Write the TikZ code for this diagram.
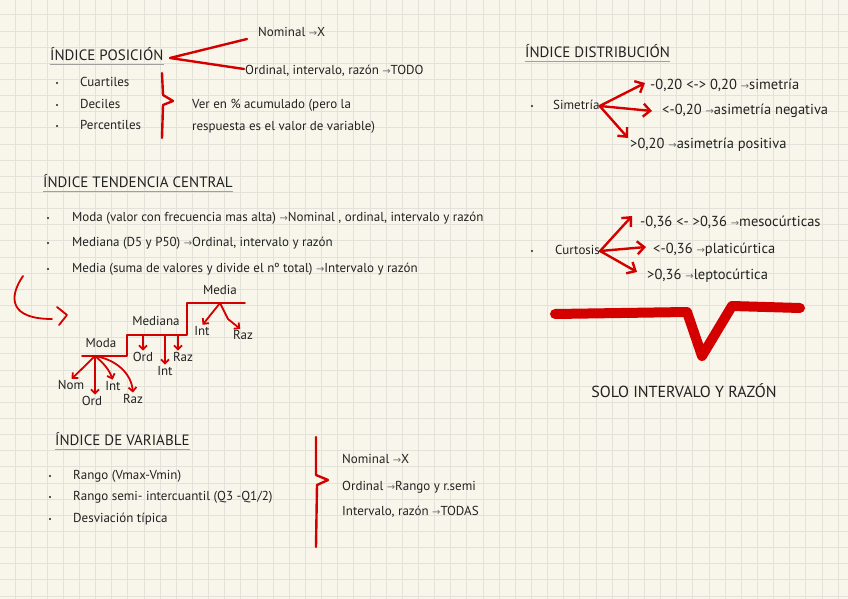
\documentclass[tikz,border=0pt]{standalone}
\usepackage{fontspec}
\setmainfont{PT Sans}
\newfontfamily\arrfont{DejaVu Sans}
\usetikzlibrary{arrows.meta,positioning}

\definecolor{paper}{RGB}{248,246,234}
\definecolor{gridgray}{RGB}{226,226,218}
\definecolor{ink}{RGB}{34,34,34}
\definecolor{penred}{RGB}{212,0,0}
\definecolor{arrowgray}{RGB}{110,110,110}

\newcommand{\flecha}{{\arrfont\fontsize{10}{10}\selectfont\color{arrowgray}→}}

\tikzset{
  txt/.style={anchor=west, inner sep=0pt, text=ink, font=\fontsize{13}{13}\selectfont,
    text height=9.5pt, text depth=3pt},
  numtxt/.style={txt, font=\fontsize{14.5}{14.5}\selectfont},
  title/.style={txt, font=\fontsize{15}{15}\selectfont},
  lbl/.style={txt, anchor=center},
  uline/.style={draw=gray!75, line width=0.9pt},
  redline/.style={draw=penred, line width=2.4pt, line cap=round, line join=round},
  thinred/.style={draw=penred, line width=1.8pt, line cap=round, line join=round},
  redarrow/.style={redline, -{Straight Barb[length=7pt,width=13pt]}},
  stairarrow/.style={thinred, shorten >=1pt, -{Straight Barb[length=4pt,width=8pt]}},
  bigred/.style={draw=penred, line width=10pt, line cap=round, line join=round}
}

\begin{document}
\begin{tikzpicture}[x=1pt, y=-1pt]

% Paper
\fill[paper] (0,0) rectangle (848,599);
\useasboundingbox (0,0) rectangle (848,599);
\foreach \i in {0,...,51}
  \draw[gridgray, line width=1pt] (15+\i*16.14,0) -- (15+\i*16.14,599);
\foreach \j in {0,...,36}
  \draw[gridgray, line width=1pt] (0,15+\j*16.14) -- (848,15+\j*16.14);

% Indice posicion
\node[title] (pos) at (50,57) {ÍNDICE POSICIÓN};
\draw[uline] ([yshift=-1pt]pos.south west) -- ([yshift=-1pt]pos.south east);
\node[txt] (nom1) at (258,33) {Nominal \flecha X};
\node[txt] (ord1) at (245,71) {Ordinal, intervalo, razón \flecha TODO};
\coordinate (posv) at (170,58);
\draw[redline] ([xshift=-11pt,yshift=-6pt]nom1.west) -- (posv) -- ([xshift=-1pt,yshift=2pt]ord1.west);

\foreach \y/\t/\n in {83/Cuartiles/cua, 105/Deciles/dec, 126/Percentiles/per}{
  \fill[ink] (57,\y) circle (1.2);
  \node[txt] (\n) at (80,\y) {\t};
}
\draw[redline] (162,73) -- (163,95) -- (173,101) -- (163,105) -- (162,138);
\node[txt] (ver1) at (192,105) {Ver en \% acumulado (pero la};
\node[txt] (ver2) at (192,127) {respuesta es el valor de variable)};

% Indice distribucion
\node[title] (dist) at (525,54) {ÍNDICE DISTRIBUCIÓN};
\draw[uline] ([yshift=-1pt]dist.south west) -- ([yshift=-1pt]dist.south east);
\fill[ink] (532,106) circle (1.2);
\node[txt] (sim) at (553,106) {Simetría};
\node[numtxt] (sim1) at (650,86) {-0,20 <-> 0,20 \flecha simetría};
\node[numtxt] (sim2) at (662,111) {<-0,20 \flecha asimetría negativa};
\node[numtxt] (sim3) at (630,145) {>0,20 \flecha asimetría positiva};
\coordinate (simA) at (645,83);
\coordinate (simB) at (652,111);
\coordinate (simC) at (628,138);
\draw[redarrow] (sim.east) -- (simA);
\draw[redarrow] (sim.east) -- (simB);
\draw[redarrow] (sim.east) -- (simC);

% Curtosis
\fill[ink] (532,251) circle (1.2);
\node[txt] (cur) at (555,251) {Curtosis};
\node[numtxt] (cur1) at (640,223) {-0,36 <- >0,36 \flecha mesocúrticas};
\node[numtxt] (cur2) at (653,250) {<-0,36 \flecha platicúrtica};
\node[numtxt] (cur3) at (647,276) {>0,36 \flecha leptocúrtica};
\coordinate (curA) at (632,216);
\coordinate (curB) at (646,247);
\coordinate (curC) at (637,272);
\draw[redarrow] (cur.east) -- (curA);
\draw[redarrow] (cur.east) -- (curB);
\draw[redarrow] (cur.east) -- (curC);

% Solo intervalo y razon
\draw[bigred] (555,314) -- (687,312) -- (702,356) -- (732,306) -- (800,308);
\node[title, anchor=center, font=\fontsize{16}{16}\selectfont] (solo) at (684,394) {SOLO INTERVALO Y RAZÓN};

% Indice tendencia central
\node[title] (ten) at (43,184) {ÍNDICE TENDENCIA CENTRAL};
\draw[uline] ([yshift=-1pt]ten.south west) -- ([yshift=-1pt]ten.south east);
\foreach \y/\t/\n in {218/{Moda (valor con frecuencia mas alta) \flecha Nominal , ordinal, intervalo y razón}/mod,
                      243/{Mediana (D5 y P50) \flecha Ordinal, intervalo y razón}/med,
                      269/{Media (suma de valores y divide el nº total) \flecha Intervalo y razón}/mea}{
  \fill[ink] (48,\y) circle (1.2);
  \node[txt] (\n) at (72,\y) {\t};
}

% curved pointer
\draw[thinred] (23,276) .. controls (8,298) and (10,319) .. (52,319);
\draw[thinred] (57,307) -- (67,315) -- (59,325);

% Staircase
\draw[thinred] (82,356) -- (127,356) -- (127,335) -- (187,335) -- (187,303) -- (245,303);
\node[lbl] (moda) at (101,344) {Moda};
\node[lbl] (mediana) at (156,322) {Mediana};
\node[lbl] (media) at (220,291) {Media};
\coordinate (modaO) at (95,356);
\coordinate (stepB) at (150,335);
\coordinate (mediaO) at (220,303);

\node[lbl] (nomA) at (71,386) {Nom};
\node[lbl] (ordA) at (92,402) {Ord};
\node[lbl] (intA) at (113,387) {Int};
\node[lbl] (razA) at (133,400) {Raz};
\draw[stairarrow] (modaO) -- (nomA.north);
\draw[stairarrow] (modaO) -- (modaO |- ordA.north);
\draw[stairarrow] (modaO) to[out=-40, in=110] (intA.north);
\draw[stairarrow] (modaO) to[out=-10, in=95] (razA.north);

\node[lbl] (ordB) at (143,358) {Ord};
\node[lbl] (intB) at (165,372) {Int};
\node[lbl] (razB) at (183,358) {Raz};
\draw[stairarrow] (ordB.north |- stepB) -- (ordB.north);
\draw[stairarrow] (intB.north |- stepB) -- (intB.north);
\draw[stairarrow] ([xshift=-5pt]razB.north |- stepB) -- ([xshift=-5pt]razB.north);

\node[lbl] (intC) at (202,332) {Int};
\node[lbl] (razC) at (243,336) {Raz};
\draw[stairarrow] (mediaO) -- (intC.north);
\draw[stairarrow] (mediaO) -- (228,319) -- ([xshift=-2pt]razC.north);

% Indice de variable
\node[title] (var) at (55,442) {ÍNDICE DE VARIABLE};
\draw[uline] ([yshift=-1pt]var.south west) -- ([yshift=-1pt]var.south east);
\foreach \y/\t/\n in {476/{Rango (Vmax-Vmin)}/ran, 497/{Rango semi- intercuantil (Q3 -Q1/2)}/sem, 519/{Desviación típica}/des}{
  \fill[ink] (50,\y) circle (1.2);
  \node[txt] (\n) at (73,\y) {\t};
}
\draw[redline] (316,437) -- (316,475) -- (328,480) -- (317,485) -- (316,547);
\node[txt] (nom2) at (342,460) {Nominal \flecha X};
\node[txt] (ord2) at (342,487) {Ordinal \flecha Rango y r.semi};
\node[txt] (int2) at (342,512) {Intervalo, razón \flecha TODAS};

\end{tikzpicture}
\end{document}
